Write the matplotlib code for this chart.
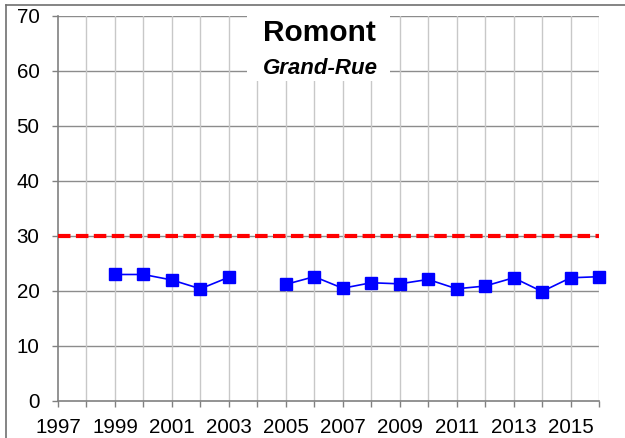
import numpy as np
import matplotlib
matplotlib.use('Agg')
import matplotlib.pyplot as plt
from matplotlib import rcParams
from matplotlib.patches import Rectangle
from matplotlib.lines import Line2D

rcParams['font.family'] = 'sans-serif'
rcParams['font.sans-serif'] = ['Liberation Sans']

# measured values, no measurement in 2004
years = [1999, 2000, 2001, 2002, 2003, 2004, 2005, 2006, 2007, 2008,
         2009, 2010, 2011, 2012, 2013, 2014, 2015, 2016]
values = [23.0, 23.0, 22.0, 20.4, 22.5, np.nan, 21.2, 22.6, 20.5, 21.5,
          21.3, 22.1, 20.4, 20.9, 22.4, 19.9, 22.4, 22.6]
limit_value = 30
year_ticks = list(range(1997, 2017))
year_labels = [str(y) if (y - 1997) % 2 == 0 else '' for y in year_ticks]
y_ticks = list(range(0, 80, 10))

fig = plt.figure(figsize=(6.25, 4.38), dpi=100)
ax = fig.add_axes([0.0928, 0.0845, 0.8656, 0.879])

ax.set_xlim(1997, 2016)
ax.set_ylim(0, 70)

for y in y_ticks[1:]:
    ax.axhline(y, color='#8c8c8c', lw=1.0, zorder=1)
for x in year_ticks[1:]:
    ax.axvline(x, color='#c8c8c8', lw=1.0, zorder=1)

ax.axhline(limit_value, color='#ff0000', lw=3, dashes=(3.0, 1.3), zorder=3)

ax.plot(years, values, color='#0000ff', lw=1.2, marker='s', markersize=8,
        markeredgecolor='#0000ff', markerfacecolor='#0000ff', zorder=4,
        clip_on=False)

# white box behind the title
ax.add_patch(Rectangle((2003.64, 58.1), 5.02, 11.9, facecolor='white',
                       edgecolor='none', zorder=2))
ax.text(2006.17, 66.9, 'Romont', ha='center', va='center', fontsize=21.5,
        fontweight='bold', zorder=5)
ax.text(2006.2, 60.4, 'Grand-Rue', ha='center', va='center', fontsize=16,
        fontweight='bold', fontstyle='italic', zorder=5)

ax.set_xticks(year_ticks)
ax.set_xticklabels(year_labels)
ax.set_yticks(y_ticks)
ax.tick_params(axis='both', colors='#808080', labelcolor='black',
               labelsize=14.8, length=4.3, width=1)
ax.tick_params(axis='y', pad=9)
ax.tick_params(axis='x', pad=8)

for side in ['top', 'right']:
    ax.spines[side].set_visible(False)
for side in ['left', 'bottom']:
    ax.spines[side].set_color('#808080')
    ax.spines[side].set_linewidth(1.2)
    ax.spines[side].set_zorder(2)

# outer frame (top and left visible)
fig.add_artist(Line2D([6 / 625, 6 / 625], [0, 1 - 5 / 438],
                      color='#707070', lw=1.2, transform=fig.transFigure))
fig.add_artist(Line2D([6 / 625, 1], [1 - 5 / 438, 1 - 5 / 438],
                      color='#707070', lw=1.2, transform=fig.transFigure))

fig.savefig('out.png', dpi=100)
